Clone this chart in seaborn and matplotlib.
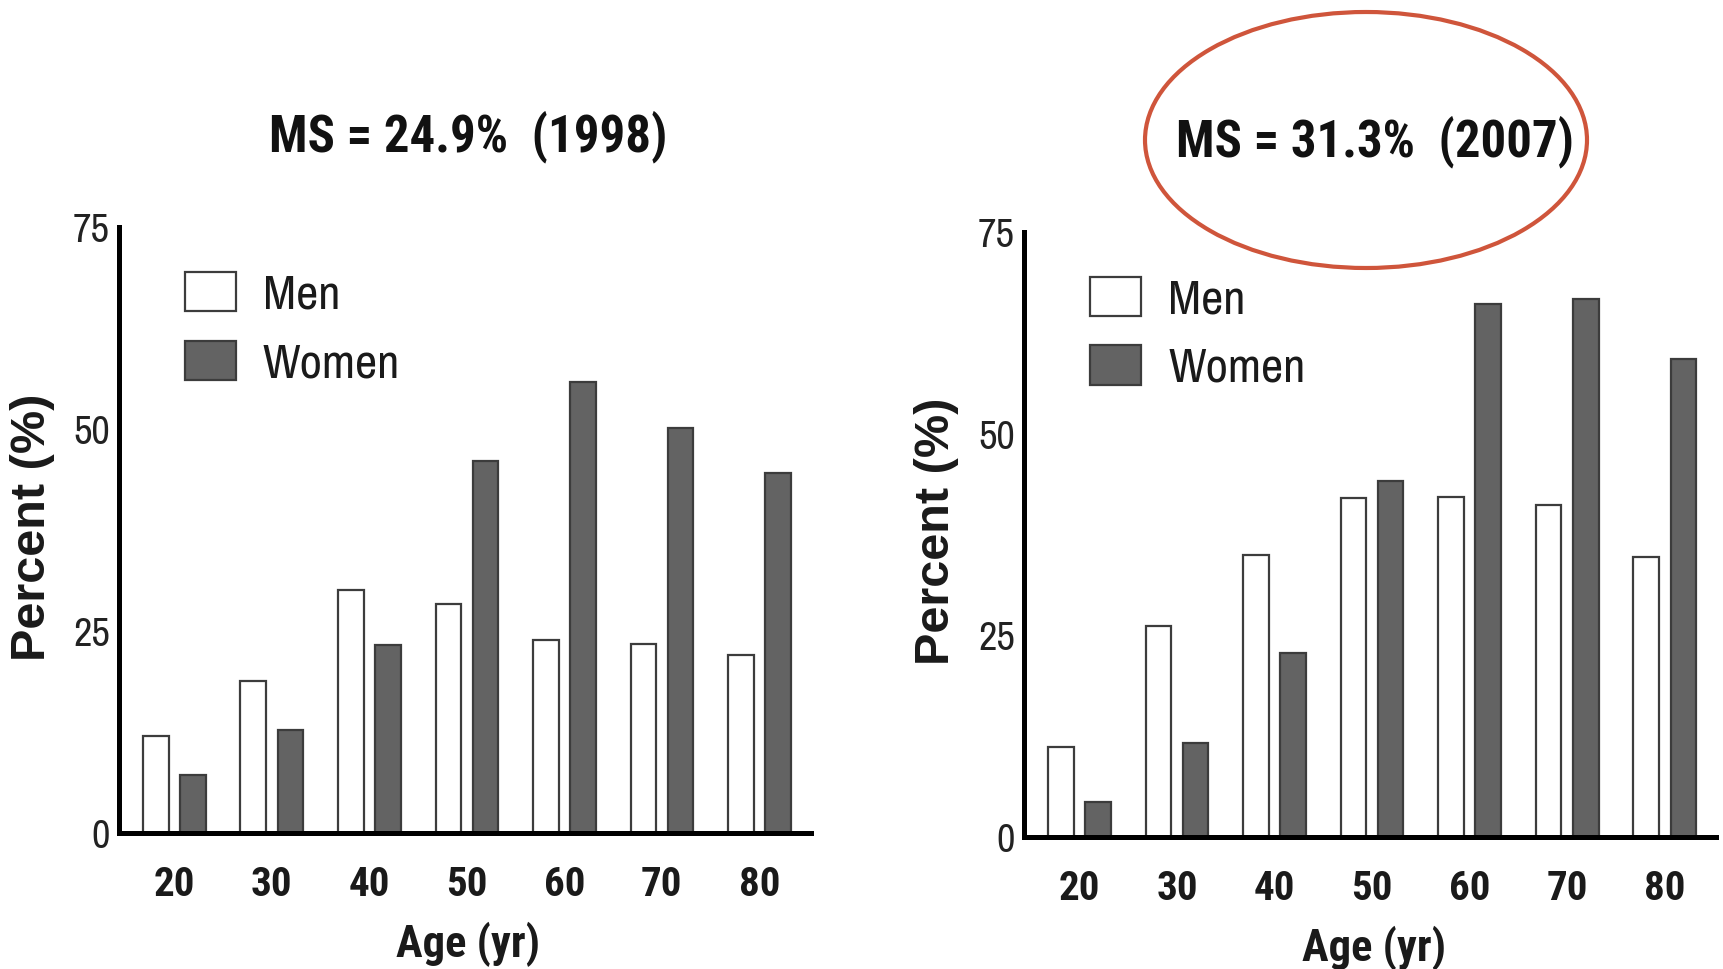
import numpy as np
import pandas as pd
import matplotlib
matplotlib.use("Agg")
import matplotlib.pyplot as plt
from matplotlib import font_manager as fm
from matplotlib.patches import Ellipse
import seaborn as sns

# ---------------- data ----------------
ages = ["20", "30", "40", "50", "60", "70", "80"]
sexes = ["Men", "Women"]
men_1998 = [12.0, 18.8, 30.1, 28.3, 23.9, 23.4, 22.0]
women_1998 = [7.2, 12.8, 23.3, 46.1, 55.8, 50.2, 44.6]
men_2007 = [11.1, 26.1, 34.9, 42.0, 42.2, 41.1, 34.7]
women_2007 = [4.3, 11.6, 22.8, 44.1, 66.1, 66.7, 59.3]
titles = ["MS = 24.9%  (1998)", "MS = 31.3%  (2007)"]
yticks = [0, 25, 50, 75]
xlabel = "Age (yr)"
ylabel = "Percent (%)"

# ---------------- fonts ----------------
sns.set_style("white")


def weights_of(name):
    ws = []
    for f in fm.fontManager.ttflist:
        if f.name == name:
            w = f.weight
            if isinstance(w, str):
                w = fm.weight_dict.get(w, 400)
            ws.append(w)
    return ws


def has_bold(name):
    return any(w >= 650 for w in weights_of(name))


reg_cands = ["Archivo Narrow", "Roboto Condensed", "PT Sans Narrow",
             "Liberation Sans"]
bold_cands = ["Roboto Condensed", "PT Sans Narrow", "Archivo Narrow",
              "Pragati Narrow", "Asap Condensed", "Encode Sans Condensed",
              "Barlow Condensed", "Liberation Sans"]
reg_font = next((c for c in reg_cands if weights_of(c)), "DejaVu Sans")
bold_font = next((c for c in bold_cands if has_bold(c)), "DejaVu Sans")
REG = [reg_font, "DejaVu Sans"]
BOLD = [bold_font, "DejaVu Sans"]
WIDE = ["Liberation Sans", "DejaVu Sans"]
plt.rcParams["font.family"] = REG

men_color = "white"
women_color = "#636363"
edge_color = "#3c3c3c"

fig = plt.figure(figsize=(17.23, 9.69), dpi=100)
ax1 = fig.add_axes([0.0689, 0.1404, 0.4018, 0.6249])
ax2 = fig.add_axes([0.5943, 0.1362, 0.4019, 0.6244])


def make_df(men, women):
    return pd.DataFrame({
        "age": ages * 2,
        "sex": ["Men"] * len(ages) + ["Women"] * len(ages),
        "value": list(men) + list(women),
    })


panels = [
    (ax1, make_df(men_1998, women_1998)),
    (ax2, make_df(men_2007, women_2007)),
]

for ax, df in panels:
    sns.barplot(data=df, x="age", y="value", hue="sex", order=ages,
                hue_order=sexes,
                palette={"Men": men_color, "Women": women_color},
                edgecolor=edge_color, linewidth=1.6, width=0.76, gap=0.31,
                errorbar=None, ax=ax, saturation=1)
    ax.set_ylim(0, 75)
    ax.set_xlim(-0.57, 6.53)
    ax.set_yticks(yticks)
    ax.set_yticklabels([str(t) for t in yticks], fontsize=29,
                       color="#222222", family=REG)
    ax.set_xticks(range(len(ages)))
    ax.set_xticklabels(ages, fontsize=29.5, fontweight="bold",
                       color="#1a1a1a", family=BOLD)
    ax.tick_params(axis="y", direction="out", length=6, width=1.6,
                   pad=0.5, colors="#222222")
    ax.tick_params(axis="x", length=0, pad=24)
    sns.despine(ax=ax)
    for side in ("left", "bottom"):
        ax.spines[side].set_linewidth(3.6)
        ax.spines[side].set_color("black")
        ax.spines[side].set_zorder(5)

    ax.set_xlabel(xlabel, fontsize=32, fontweight="bold",
                  color="#1a1a1a", family=BOLD)
    ax.set_ylabel(ylabel, fontsize=35, fontweight="bold",
                  color="#1a1a1a", family=WIDE)
    ax.xaxis.label.set_va("baseline")
    ax.yaxis.label.set_va("center")

    handles, labels = ax.get_legend_handles_labels()
    ax.legend(handles, labels, loc="upper left",
              bbox_to_anchor=(0.096, 0.926), frameon=False,
              prop={"family": REG, "size": 35}, borderpad=0,
              borderaxespad=0, handlelength=1.05, handleheight=0.86,
              handletextpad=0.55, labelspacing=0.5, labelcolor="#1a1a1a")

ax1.xaxis.set_label_coords(0.5045, -0.205)
ax2.xaxis.set_label_coords(0.5048, -0.205)
ax1.yaxis.set_label_coords(-0.124, 0.505)
ax2.yaxis.set_label_coords(-0.127, 0.506)

# titles
fig.text(0.2719, 1 - 151 / 969, titles[0], ha="center", va="baseline",
         fontsize=36.5, fontweight="bold", color="#111111", family=BOLD)
fig.text(0.798, 1 - 156 / 969, titles[1], ha="center", va="baseline",
         fontsize=36.5, fontweight="bold", color="#111111", family=BOLD)

# red highlight ellipse around the 2007 title
ell = Ellipse((1366 / 1723, 1 - 140 / 969), width=442 / 1723,
              height=256 / 969, transform=fig.transFigure, fill=False,
              edgecolor="#cf553b", linewidth=3.0)
fig.add_artist(ell)

fig.savefig("out.png", dpi=100, facecolor="white")
